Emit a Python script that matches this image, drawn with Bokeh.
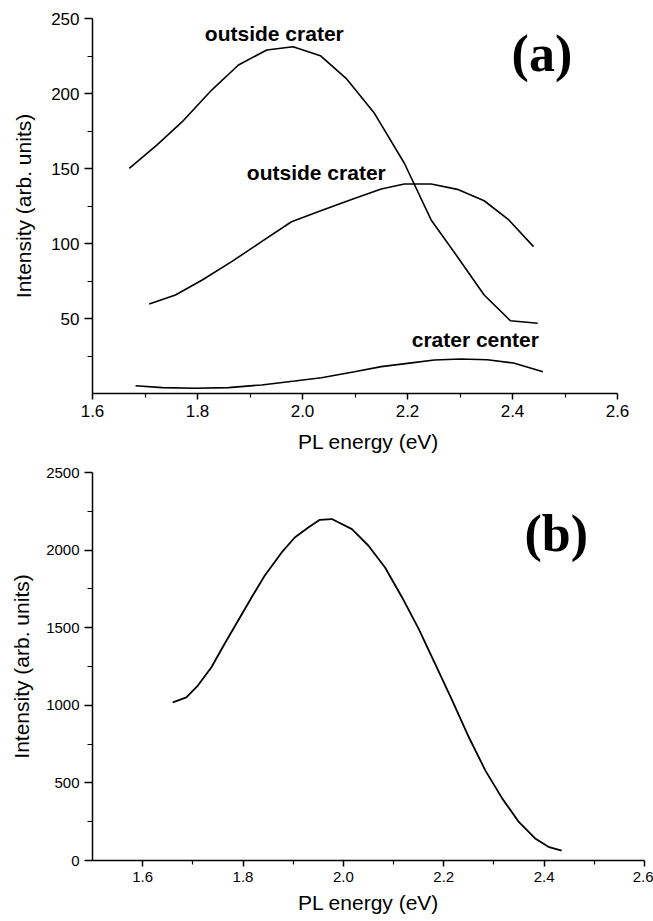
from bokeh.plotting import figure
from bokeh.layouts import column
from bokeh.models import Range1d, FixedTicker, PrintfTickFormatter, Label
from bokeh.embed import file_html
from bokeh.resources import INLINE

# ---- data (panel a) ----
x_out1 = [1.670, 1.723, 1.771, 1.827, 1.878, 1.932, 1.982, 2.034, 2.083, 2.137, 2.194, 2.245, 2.295, 2.346, 2.396, 2.448]
y_out1 = [150.1, 165.7, 181.2, 202.3, 219.0, 229.0, 231.2, 225.2, 210.1, 186.8, 153.5, 115.7, 91.2, 65.7, 48.5, 46.8]

x_out2 = [1.708, 1.758, 1.809, 1.865, 1.922, 1.979, 2.036, 2.096, 2.150, 2.194, 2.245, 2.295, 2.346, 2.393, 2.440]
y_out2 = [59.7, 65.7, 75.7, 87.9, 101.2, 114.5, 122.0, 129.7, 136.3, 139.7, 139.7, 136.1, 128.5, 115.7, 97.9]

x_center = [1.682, 1.733, 1.796, 1.859, 1.922, 1.985, 2.036, 2.099, 2.150, 2.200, 2.251, 2.301, 2.352, 2.402, 2.458]
y_center = [5.2, 3.9, 3.5, 3.9, 5.7, 8.3, 10.5, 14.5, 17.9, 20.1, 22.3, 23.0, 22.5, 20.3, 14.5]

# ---- data (panel b) ----
x_b = [1.660, 1.687, 1.710, 1.737, 1.763, 1.790, 1.817, 1.843, 1.877, 1.903, 1.930, 1.953, 1.977,
       2.017, 2.050, 2.083, 2.117, 2.150, 2.183, 2.217, 2.250, 2.283, 2.317, 2.350, 2.383, 2.410, 2.435]
y_b = [1019, 1051, 1127, 1245, 1395, 1545, 1695, 1835, 1985, 2081, 2146, 2195, 2200,
       2135, 2028, 1888, 1695, 1492, 1266, 1030, 794, 579, 397, 247, 140, 86, 64]

# ---- ticks ----
xa_major = [1.6, 1.8, 2.0, 2.2, 2.4, 2.6]
xa_minor = [1.7, 1.9, 2.1, 2.3, 2.5]
ya_major = [50, 100, 150, 200, 250]
ya_minor = [25, 75, 125, 175, 225]
xb_major = [1.6, 1.8, 2.0, 2.2, 2.4, 2.6]
xb_minor = [1.7, 1.9, 2.1, 2.3, 2.5]
yb_major = [0, 500, 1000, 1500, 2000, 2500]
yb_minor = [250, 750, 1250, 1750, 2250]

FONT = "Liberation Sans"
XLABEL = "PL energy (eV)"
YLABEL = "Intensity (arb. units)"


def style(p, xmaj, xmin, ymaj, ymin, tick_size, xl_standoff, yl_standoff):
    p.outline_line_color = None
    p.xgrid.visible = False
    p.ygrid.visible = False
    p.background_fill_color = "white"
    p.border_fill_color = "white"
    p.xaxis.ticker = FixedTicker(ticks=xmaj, minor_ticks=xmin)
    p.yaxis.ticker = FixedTicker(ticks=ymaj, minor_ticks=ymin)
    p.xaxis.formatter = PrintfTickFormatter(format="%.1f")
    for ax in (p.xaxis[0], p.yaxis[0]):
        ax.axis_line_color = "black"
        ax.axis_line_width = 1.5
        ax.major_tick_line_color = "black"
        ax.minor_tick_line_color = "black"
        ax.major_tick_line_width = 1.5
        ax.minor_tick_line_width = 1.2
        ax.major_tick_in = 0
        ax.minor_tick_in = 0
        ax.major_label_text_font = FONT
        ax.major_label_text_font_size = tick_size
        ax.major_label_text_color = "black"
        ax.axis_label_text_font = FONT
        ax.axis_label_text_font_size = "21px"
        ax.axis_label_text_font_style = "normal"
        ax.axis_label_text_color = "black"
        ax.major_label_standoff = 5
    p.xaxis.major_tick_out = 6
    p.xaxis.minor_tick_out = 4
    p.yaxis.major_tick_out = 8
    p.yaxis.minor_tick_out = 5
    p.xaxis.axis_label_standoff = xl_standoff
    p.yaxis.axis_label_standoff = yl_standoff
    p.xaxis.axis_label = XLABEL
    p.yaxis.axis_label = YLABEL


W = 653

# ---- panel (a) ----
pa = figure(width=W, height=463, output_backend="svg", toolbar_location=None,
            x_range=Range1d(1.6, 2.6514), y_range=Range1d(0, 250),
            min_border_left=92, min_border_right=9, min_border_top=18, min_border_bottom=70)
style(pa, xa_major, xa_minor, ya_major, ya_minor, "17px", 10, 13)
pa.xaxis.bounds = (1.6, 2.6)
pa.line(x_out1, y_out1, line_color="black", line_width=1.6)
pa.line(x_out2, y_out2, line_color="black", line_width=1.6)
pa.line(x_center, y_center, line_color="black", line_width=1.6)

for tx, ty, t in [(1.814, 240.3, "outside crater"), (1.894, 147.2, "outside crater"), (2.208, 36.1, "crater center")]:
    pa.add_layout(Label(x=tx, y=ty, text=t, text_font=FONT, text_font_size="21px",
                        text_font_style="bold", text_color="black", text_align="left",
                        text_baseline="middle"))
pa.add_layout(Label(x=2.456, y=226.5, text="(a)", text_font="Liberation Serif", text_font_size="52px",
                    text_font_style="bold", text_color="black", text_align="center",
                    text_baseline="middle"))

# ---- panel (b) ----
pb = figure(width=W, height=457, output_backend="svg", toolbar_location=None,
            x_range=Range1d(1.5, 2.6), y_range=Range1d(0, 2500),
            min_border_left=92, min_border_right=9, min_border_top=9, min_border_bottom=60)
style(pb, xb_major, xb_minor, yb_major, yb_minor, "15px", 6, 10)
pb.line(x_b, y_b, line_color="black", line_width=1.8)
pb.add_layout(Label(x=2.424, y=2105, text="(b)", text_font="Liberation Serif", text_font_size="52px",
                    text_font_style="bold", text_color="black", text_align="center",
                    text_baseline="middle"))

layout = column(pa, pb, spacing=0)
open("out.html", "w").write(file_html(layout, INLINE))
